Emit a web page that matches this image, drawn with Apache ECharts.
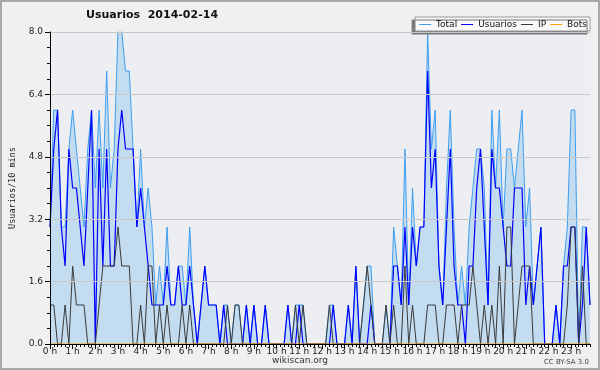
<!DOCTYPE html>
<html>
<head>
<meta charset="utf-8">
<script src="https://cdn.jsdelivr.net/npm/echarts@6/dist/echarts.min.js"></script>
<style>
  html, body { margin: 0; padding: 0; background: #f0f0f0; }
  #chart { width: 600px; height: 370px; }
</style>
</head>
<body>
<div id="chart"></div>
<script>
// one value every 10 minutes, 144 slots for the day
const hourLabels = ['0 h', '1 h', '2 h', '3 h', '4 h', '5 h', '6 h', '7 h', '8 h', '9 h', '10 h', '11 h',
  '12 h', '13 h', '14 h', '15 h', '16 h', '17 h', '18 h', '19 h', '20 h', '21 h', '22 h', '23 h'];

const total = [
  3, 6, 6, 3, 3, 5, 6, 5, 4, 3, 5, 6,
  4, 6, 4, 7, 4, 5, 8, 8, 7, 7, 5, 3,
  5, 3, 4, 3, 1, 2, 1, 3, 1, 1, 2, 2,
  1, 3, 1, 0, 1, 2, 1, 1, 1, 0, 1, 1,
  0, 1, 1, 0, 1, 0, 1, 0, 0, 1, 0, 0,
  0, 0, 0, 1, 0, 1, 1, 1, 0, 0, 0, 0,
  0, 0, 1, 1, 0, 0, 0, 1, 0, 2, 0, 1,
  2, 2, 0, 0, 0, 1, 0, 3, 2, 1, 5, 1,
  4, 2, 3, 3, 8, 5, 6, 2, 1, 4, 6, 3,
  1, 2, 1, 3, 4, 5, 5, 4, 1, 6, 4, 6,
  3, 5, 5, 4, 5, 6, 3, 4, 1, 2, 3, 0,
  0, 0, 1, 0, 2, 3, 6, 6, 0, 3, 3, 1
];

const usuarios = [
  3, 5, 6, 3, 2, 5, 4, 4, 3, 2, 4, 6,
  0, 5, 2, 5, 2, 2, 5, 6, 5, 5, 5, 3,
  4, 3, 2, 1, 1, 1, 1, 2, 1, 1, 2, 1,
  1, 2, 1, 0, 1, 2, 1, 1, 1, 0, 1, 0,
  0, 0, 0, 0, 1, 0, 1, 0, 0, 1, 0, 0,
  0, 0, 0, 1, 0, 0, 1, 0, 0, 0, 0, 0,
  0, 0, 0, 1, 0, 0, 0, 1, 0, 2, 0, 0,
  0, 1, 0, 0, 0, 0, 0, 2, 2, 1, 3, 1,
  3, 2, 3, 3, 7, 4, 5, 2, 1, 3, 5, 2,
  1, 1, 0, 2, 2, 4, 5, 3, 1, 5, 4, 4,
  3, 2, 2, 4, 4, 4, 1, 2, 1, 2, 3, 0,
  0, 0, 1, 0, 2, 2, 3, 3, 0, 1, 3, 1
];

const ip = [
  1, 1, 0, 0, 1, 0, 2, 1, 1, 1, 0, 0,
  0, 1, 2, 2, 2, 2, 3, 2, 2, 2, 0, 0,
  1, 0, 2, 2, 0, 1, 0, 1, 0, 0, 0, 1,
  0, 1, 0, 0, 0, 0, 0, 0, 0, 0, 0, 1,
  0, 1, 1, 0, 0, 0, 0, 0, 0, 0, 0, 0,
  0, 0, 0, 0, 0, 1, 0, 1, 0, 0, 0, 0,
  0, 0, 1, 0, 0, 0, 0, 0, 0, 0, 0, 1,
  2, 1, 0, 0, 0, 1, 0, 1, 0, 0, 2, 0,
  1, 0, 0, 0, 1, 1, 1, 0, 0, 1, 1, 1,
  0, 1, 1, 1, 2, 1, 0, 1, 0, 1, 0, 2,
  0, 3, 3, 0, 1, 2, 2, 2, 0, 0, 0, 0,
  0, 0, 0, 0, 0, 1, 3, 3, 0, 2, 0, 0
];

const bots = [
  0, 0, 0, 0, 0, 0, 0, 0, 0, 0, 0, 0,
  0, 0, 0, 0, 0, 0, 0, 0, 0, 0, 0, 0,
  0, 0, 0, 0, 0, 0, 0, 0, 0, 0, 0, 0,
  0, 0, 0, 0, 0, 0, 0, 0, 0, 0, 0, 0,
  0, 0, 0, 0, 0, 0, 0, 0, 0, 0, 0, 0,
  0, 0, 0, 0, 0, 0, 0, 0, 0, 0, 0, 0,
  0, 0, 0, 0, 0, 0, 0, 0, 0, 0, 0, 0,
  0, 0, 0, 0, 0, 0, 0, 0, 0, 0, 0, 0,
  0, 0, 0, 0, 0, 0, 0, 0, 0, 0, 0, 0,
  0, 0, 0, 0, 0, 0, 0, 0, 0, 0, 0, 0,
  0, 0, 0, 0, 0, 0, 0, 0, 0, 0, 0, 0,
  0, 0, 0, 0, 0, 0, 0, 0, 0, 0, 0, 0
];

const chart = echarts.init(document.getElementById('chart'));

const toPoints = (arr) => arr.map((v, i) => [i, v]);
const hourTicks = hourLabels.map((_, h) => h * 6);
const font = 'DejaVu Sans';

const option = {
  animation: false,
  backgroundColor: '#f0f0f0',
  title: {
    text: 'Usuarios  2014-02-14',
    left: 86,
    top: 10,
    padding: 0,
    textStyle: { fontFamily: font, fontSize: 11, fontWeight: 'bold', color: '#111' },
  },
  legend: {
    data: ['Total', 'Usuarios', 'IP', 'Bots'],
    right: 10,
    top: 17,
    icon: 'rect',
    itemWidth: 12,
    itemHeight: 1,
    itemGap: 4,
    padding: [3, 3, 2, 4],
    backgroundColor: '#f8f8f8',
    borderColor: '#999',
    borderWidth: 1,
    shadowColor: '#777',
    shadowBlur: 0,
    shadowOffsetX: -3,
    shadowOffsetY: 3,
    textStyle: { fontFamily: font, fontSize: 9, color: '#111' },
  },
  grid: {
    left: 46,
    right: 10,
    top: 32,
    bottom: 26,
    show: true,
    backgroundColor: '#eceef1',
    borderWidth: 0,
  },
  xAxis: [
    {
      type: 'value',
      min: 0,
      max: 143,
      z: 10,
      axisLine: { show: true, lineStyle: { color: '#000', width: 1 } },
      axisTick: { show: true, length: 5, customValues: hourTicks, lineStyle: { color: '#000' } },
      axisLabel: {
        customValues: hourTicks,
        formatter: (v) => hourLabels[v / 6] || '',
        fontFamily: font,
        fontSize: 9,
        color: '#222',
        margin: 3,
      },
      splitLine: { show: false },
    },
    {
      type: 'value',
      min: 0,
      max: 143,
      interval: 1,
      position: 'bottom',
      z: 10,
      axisLine: { show: false },
      axisTick: { show: true, length: 3, lineStyle: { color: '#000' } },
      axisLabel: { show: false },
      splitLine: { show: false },
    },
  ],
  yAxis: {
    type: 'value',
    min: 0,
    max: 8,
    interval: 1.6,
    name: 'Usuarios/10 mins',
    nameLocation: 'middle',
    nameGap: 33,
    nameTextStyle: { fontFamily: 'DejaVu Sans Mono', fontSize: 8.5, color: '#222' },
    z: 10,
    axisLine: { show: true, lineStyle: { color: '#000' } },
    axisTick: { show: true, length: 5, lineStyle: { color: '#000' } },
    minorTick: { show: true, splitNumber: 4, length: 3, lineStyle: { color: '#000' } },
    axisLabel: {
      formatter: (v) => v.toFixed(1),
      fontFamily: font,
      fontSize: 9,
      color: '#222',
      margin: 7,
    },
    splitLine: { show: true, lineStyle: { color: '#c8c8c8', width: 1 } },
  },
  series: [
    {
      name: 'Total',
      type: 'line',
      data: toPoints(total),
      symbol: 'none',
      color: '#3d9ff0',
      lineStyle: { width: 1, color: '#3d9ff0' },
      areaStyle: { color: '#c4dcf0', opacity: 1 },
    },
    {
      name: 'Usuarios',
      type: 'line',
      data: toPoints(usuarios),
      symbol: 'none',
      color: '#0000ff',
      lineStyle: { width: 1.2, color: '#0000ff' },
    },
    {
      name: 'IP',
      type: 'line',
      data: toPoints(ip),
      symbol: 'none',
      color: '#3a3a3a',
      lineStyle: { width: 1, color: '#3a3a3a' },
    },
    {
      name: 'Bots',
      type: 'line',
      data: toPoints(bots),
      symbol: 'none',
      color: '#ffa500',
      lineStyle: { width: 1, color: '#ffa500' },
    },
  ],
  graphic: [
    {
      type: 'rect',
      shape: { x: 1, y: 1, width: 598, height: 368 },
      style: { fill: null, stroke: '#a8a8a8', lineWidth: 2 },
      silent: true,
    },
    {
      type: 'text',
      x: 300,
      y: 361,
      style: { text: 'wikiscan.org', fontFamily: font, fontSize: 9, fill: '#333', align: 'center', verticalAlign: 'middle' },
    },
    {
      type: 'text',
      x: 589,
      y: 362,
      style: { text: 'CC BY-SA 3.0', fontFamily: font, fontSize: 7, fill: '#444', align: 'right', verticalAlign: 'middle' },
    },
  ],
};

chart.setOption(option);
</script>
</body>
</html>
